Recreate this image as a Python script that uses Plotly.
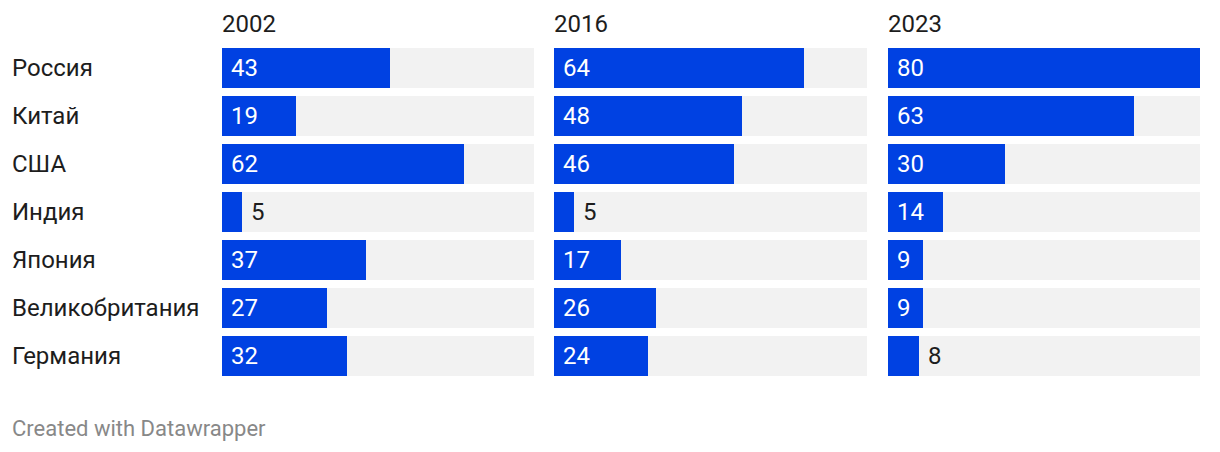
import plotly.graph_objects as go

categories = ["Россия", "Китай", "США", "Индия", "Япония", "Великобритания", "Германия"]
years = ["2002", "2016", "2023"]
values_2002 = [43, 19, 62, 5, 37, 27, 32]
values_2016 = [64, 48, 46, 5, 17, 26, 24]
values_2023 = [80, 63, 30, 14, 9, 9, 8]
series = [values_2002, values_2016, values_2023]
max_value = 80

# page has an 8px body margin, so the figure origin sits at (8, 8)
OFF = 8
W, H = 1204, 436
BLUE = "#0041E2"
BG = "#F2F2F2"
TEXT = "#1d1d1d"
FONT = "Roboto"

panels_px = [(222 - OFF, 534 - OFF), (554 - OFF, 867 - OFF), (888 - OFF, 1200 - OFF)]
top_px, bottom_px = 44 - OFF, 380 - OFF

fig = go.Figure()
annotations = []
for i, (vals, yr) in enumerate(zip(series, years)):
    sfx = "" if i == 0 else str(i + 1)
    xa, ya = "x" + sfx, "y" + sfx
    fig.add_trace(go.Bar(x=[max_value] * len(categories), y=categories, orientation="h",
                         marker=dict(color=BG, line=dict(width=0)), width=40 / 48,
                         xaxis=xa, yaxis=ya, hoverinfo="skip", showlegend=False))
    fig.add_trace(go.Bar(x=vals, y=categories, orientation="h",
                         marker=dict(color=BLUE, line=dict(width=0)), width=40 / 48,
                         xaxis=xa, yaxis=ya, showlegend=False))
    x0, x1 = panels_px[i]
    fig.update_layout(**{
        "xaxis" + sfx: dict(domain=[x0 / W, x1 / W], range=[0, max_value], visible=False,
                            fixedrange=True, anchor=ya),
        "yaxis" + sfx: dict(domain=[1 - bottom_px / H, 1 - top_px / H], visible=False,
                            categoryorder="array", categoryarray=categories,
                            range=[len(categories) - 0.5, -0.5], anchor=xa),
    })
    annotations.append(dict(text=yr, x=x0 / W, y=1 - (24 - OFF) / H, xref="paper", yref="paper",
                            xanchor="left", yanchor="middle", showarrow=False, xshift=-2,
                            font=dict(family=FONT, size=24, color=TEXT)))
    for c, v in zip(categories, vals):
        inside = v > 8
        annotations.append(dict(text=str(v), x=0 if inside else v, y=c, xref=xa, yref=ya,
                                xanchor="left", yanchor="middle", xshift=7, showarrow=False,
                                font=dict(family=FONT, size=24,
                                          color="#ffffff" if inside else TEXT)))

for c in categories:
    annotations.append(dict(text=c, x=(12 - OFF) / W, y=c, xref="paper", yref="y",
                            xanchor="left", yanchor="middle", showarrow=False, xshift=-2,
                            font=dict(family=FONT, size=24, color=TEXT)))

annotations.append(dict(text="Created with Datawrapper", x=(12 - OFF) / W, y=1 - (428 - OFF) / H,
                        xref="paper", yref="paper", xanchor="left", yanchor="middle",
                        showarrow=False, xshift=-2, font=dict(family=FONT, size=22, color="#888888")))

fig.update_layout(width=W, height=H, margin=dict(l=0, r=0, t=0, b=0),
                  barmode="overlay", bargap=0, plot_bgcolor="white", paper_bgcolor="white",
                  annotations=annotations, font=dict(family=FONT))

fig.write_html("out.html", config={"displayModeBar": False})
